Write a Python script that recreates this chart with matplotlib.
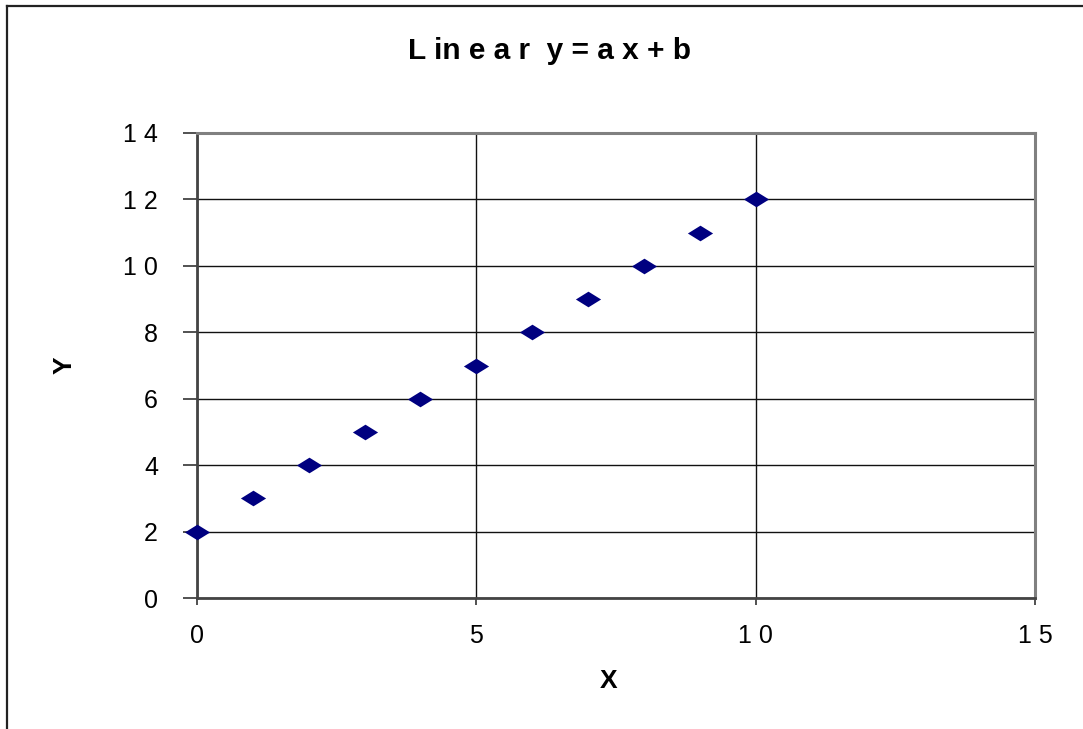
import numpy as np
import matplotlib.pyplot as plt
from matplotlib.lines import Line2D
from matplotlib.path import Path

plt.rcParams['font.family'] = ['Liberation Sans', 'DejaVu Sans']

# datos
x_vals = [0, 1, 2, 3, 4, 5, 6, 7, 8, 9, 10]
y_vals = [2, 3, 4, 5, 6, 7, 8, 9, 10, 11, 12]
x_ticks = [0, 5, 10, 15]
x_labels = ['0', '5', '1 0', '1 5']
y_ticks = [0, 2, 4, 6, 8, 10, 12, 14]
y_labels = ['0', '2', '4', '6', '8', '1 0', '1 2', '1 4']

W, H = 1083, 729
fig = plt.figure(figsize=(W / 100, H / 100), dpi=100)
ax = fig.add_axes([197 / W, 1 - 598 / H, (1035 - 197) / W, (598 - 133) / H])

# rombo mas ancho que alto (estilo Excel)
rombo = Path([(-1, 0), (0, 0.62), (1, 0), (0, -0.62), (-1, 0)],
             [Path.MOVETO, Path.LINETO, Path.LINETO, Path.LINETO, Path.CLOSEPOLY])
ax.scatter(x_vals, y_vals, marker=rombo, s=330, color='#000080', zorder=5,
           clip_on=False, linewidths=0)

ax.set_xlim(0, 15)
ax.set_ylim(0, 14)
ax.set_xticks(x_ticks)
ax.set_xticklabels(x_labels, fontsize=18)
ax.set_yticks(y_ticks)
ax.set_yticklabels(y_labels, fontsize=18)
ax.tick_params(axis='x', direction='out', length=5, width=1.2, pad=14, color='#333333')
ax.tick_params(axis='y', direction='out', length=10, width=1.2, pad=18, color='#333333')
ax.grid(True, color='#111111', linewidth=1.0)
ax.set_axisbelow(True)

for s in ['top', 'right']:
    ax.spines[s].set_color('#808080')
    ax.spines[s].set_linewidth(2.2)
for s in ['left', 'bottom']:
    ax.spines[s].set_color('#444444')
    ax.spines[s].set_linewidth(2.0)

fig.text(550 / W, 1 - 51 / H, 'L in e a r  y = a x + b', ha='center', va='center',
         fontsize=21.5, fontweight='bold')
fig.text(609 / W, 1 - 681 / H, 'X', ha='center', va='center', fontsize=19, fontweight='bold')
fig.text(65 / W, 1 - 365 / H, 'Y', ha='center', va='center', fontsize=19,
         fontweight='bold', rotation=90)

# marco exterior del grafico (solo se ven izquierda y arriba)
fig.add_artist(Line2D([7 / W, 7 / W], [0, 1 - 6 / H], color='#222222', linewidth=1.6))
fig.add_artist(Line2D([7 / W, 1], [1 - 6 / H, 1 - 6 / H], color='#222222', linewidth=1.6))

fig.savefig('out.png', dpi=100)
